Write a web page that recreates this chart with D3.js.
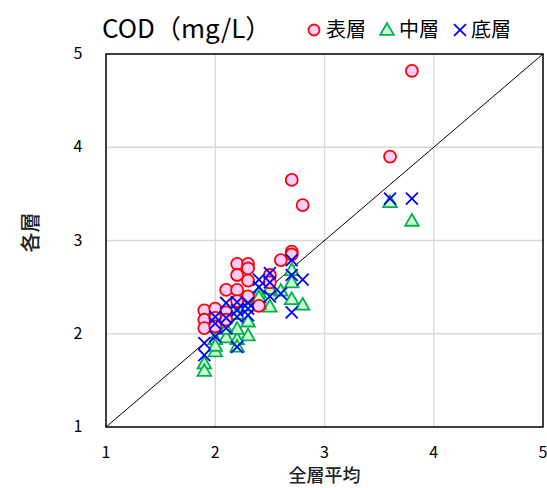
<!DOCTYPE html>
<html lang="ja">
<head>
<meta charset="UTF-8">
<title>COD</title>
<script src="https://d3js.org/d3.v7.min.js"></script>
<style>
  body { margin: 0; background: #fff; }
  text { font-family: "Noto Sans CJK JP", "Noto Sans", sans-serif; }
</style>
</head>
<body>
<script>
    // 表層 (surface)
    const surfX = [3.8, 3.6, 2.7, 2.8, 2.7, 2.7, 2.6, 2.2, 2.3, 2.3, 2.2, 2.3, 2.1, 2.2, 2.3, 2.5, 2.5, 1.9, 1.9, 1.9, 2.0, 2.0, 2.1, 2.0, 2.2, 2.4, 2.1];
    const surfY = [4.82, 3.9, 3.65, 3.38, 2.88, 2.85, 2.79, 2.75, 2.75, 2.7, 2.63, 2.57, 2.47, 2.47, 2.4, 2.63, 2.55, 2.25, 2.15, 2.06, 2.27, 2.17, 2.23, 2.08, 2.35, 2.3, 2.15];
    // 中層 (middle)
    const midX = [3.6, 3.8, 2.7, 2.7, 2.6, 2.7, 2.8, 2.5, 2.4, 2.4, 2.3, 2.3, 2.2, 2.2, 2.1, 2.0, 2.0, 1.9, 1.9, 2.2, 2.3, 2.5, 2.1, 2.4, 2.0, 2.2];
    const midY = [3.4, 3.2, 2.67, 2.54, 2.45, 2.36, 2.3, 2.28, 2.31, 2.43, 2.12, 1.97, 1.93, 1.85, 1.95, 1.93, 1.8, 1.67, 1.59, 2.04, 2.29, 2.47, 2.04, 2.38, 1.86, 2.2];
    // 底層 (bottom)
    const botX = [3.6, 3.8, 2.7, 2.7, 2.8, 2.7, 2.5, 2.4, 2.5, 2.6, 2.5, 2.2, 2.3, 2.3, 2.2, 2.1, 2.1, 2.0, 2.0, 2.0, 1.9, 1.9, 2.2, 2.1, 2.4, 2.3, 2.2];
    const botY = [3.45, 3.45, 2.79, 2.63, 2.58, 2.23, 2.65, 2.58, 2.55, 2.43, 2.4, 2.34, 2.33, 2.2, 2.18, 2.33, 2.17, 2.18, 2.11, 1.97, 1.9, 1.77, 1.86, 2.06, 2.5, 2.27, 2.25];

    const ticks = [1, 2, 3, 4, 5];

    const W = 547, H = 488;
    const margin = { top: 54, right: 4, bottom: 61, left: 106 };
    const width = W - margin.left - margin.right;
    const height = H - margin.top - margin.bottom;

    const svg = d3.select('body').append('svg')
        .attr('width', W)
        .attr('height', H);

    const g = svg.append('g')
        .attr('transform', 'translate(' + margin.left + ',' + margin.top + ')');

    const x = d3.scaleLinear().domain([1, 5]).range([0, width]);
    const y = d3.scaleLinear().domain([1, 5]).range([height, 0]);

    // grid
    g.selectAll('.vg').data(ticks.slice(1, -1)).enter().append('line')
        .attr('x1', d => x(d)).attr('x2', d => x(d))
        .attr('y1', 0).attr('y2', height)
        .attr('stroke', '#d9d9d9').attr('stroke-width', 1.3);
    g.selectAll('.hg').data(ticks.slice(1, -1)).enter().append('line')
        .attr('y1', d => y(d)).attr('y2', d => y(d))
        .attr('x1', 0).attr('x2', width)
        .attr('stroke', '#d9d9d9').attr('stroke-width', 1.3);

    // 1:1 line
    g.append('line')
        .attr('x1', x(1)).attr('y1', y(1))
        .attr('x2', x(5)).attr('y2', y(5))
        .attr('stroke', '#000').attr('stroke-width', 1);

    // frame
    g.append('rect')
        .attr('width', width).attr('height', height)
        .attr('fill', 'none').attr('stroke', '#000').attr('stroke-width', 1.5);

    // tick labels
    g.selectAll('.xt').data(ticks).enter().append('text')
        .attr('x', d => x(d)).attr('y', height + 31)
        .attr('text-anchor', 'middle')
        .style('font-size', '16px')
        .text(d => d);
    g.selectAll('.yt').data(ticks).enter().append('text')
        .attr('x', -28).attr('y', d => y(d) + 5)
        .attr('text-anchor', 'middle')
        .style('font-size', '16px')
        .text(d => d);

    // axis labels
    svg.append('text')
        .attr('x', margin.left + x(3)).attr('y', 482)
        .attr('text-anchor', 'middle')
        .style('font-size', '18px').style('font-weight', '500').attr('fill', '#222')
        .text('全層平均');
    svg.append('text')
        .attr('transform', 'translate(38,' + (margin.top + height / 2 - 8) + ') rotate(-90)')
        .attr('text-anchor', 'middle')
        .style('font-size', '20px').style('font-weight', '500').attr('fill', '#222')
        .text('各層');

    // title
    svg.append('text')
        .attr('x', 102).attr('y', 38)
        .style('font-size', '26px')
        .text('COD（mg/L）');

    const tri = d3.symbol().type(d3.symbolTriangle).size(80);
    const cross = d3.symbol().type(d3.symbolTimes).size(95);

    // series marks
    g.selectAll('.mid').data(d3.zip(midX, midY)).enter().append('path')
        .attr('d', tri)
        .attr('transform', d => 'translate(' + x(d[0]) + ',' + y(d[1]) + ')')
        .attr('fill', '#ccffcc').attr('stroke', '#00b050').attr('stroke-width', 1.8);
    g.selectAll('.surf').data(d3.zip(surfX, surfY)).enter().append('circle')
        .attr('cx', d => x(d[0])).attr('cy', d => y(d[1]))
        .attr('r', 6)
        .attr('fill', '#ffccff').attr('stroke', '#ff0000').attr('stroke-width', 1.8);
    g.selectAll('.bot').data(d3.zip(botX, botY)).enter().append('path')
        .attr('d', cross)
        .attr('transform', d => 'translate(' + x(d[0]) + ',' + y(d[1]) + ')')
        .attr('fill', 'none').attr('stroke', '#0000ff').attr('stroke-width', 1.8);

    // legend
    const leg = svg.append('g').attr('transform', 'translate(0,30)');
    leg.append('circle').attr('cx', 314).attr('cy', 0).attr('r', 5.5)
        .attr('fill', '#ffccff').attr('stroke', '#ff0000').attr('stroke-width', 1.8);
    leg.append('text').attr('x', 326).attr('y', 7).style('font-size', '20px').text('表層');
    leg.append('path').attr('d', tri).attr('transform', 'translate(387,1)')
        .attr('fill', '#ccffcc').attr('stroke', '#00b050').attr('stroke-width', 1.8);
    leg.append('text').attr('x', 399).attr('y', 7).style('font-size', '20px').text('中層');
    leg.append('path').attr('d', cross).attr('transform', 'translate(460,0)')
        .attr('fill', 'none').attr('stroke', '#0000ff').attr('stroke-width', 1.8);
    leg.append('text').attr('x', 471).attr('y', 7).style('font-size', '20px').text('底層');
</script>
</body>
</html>
